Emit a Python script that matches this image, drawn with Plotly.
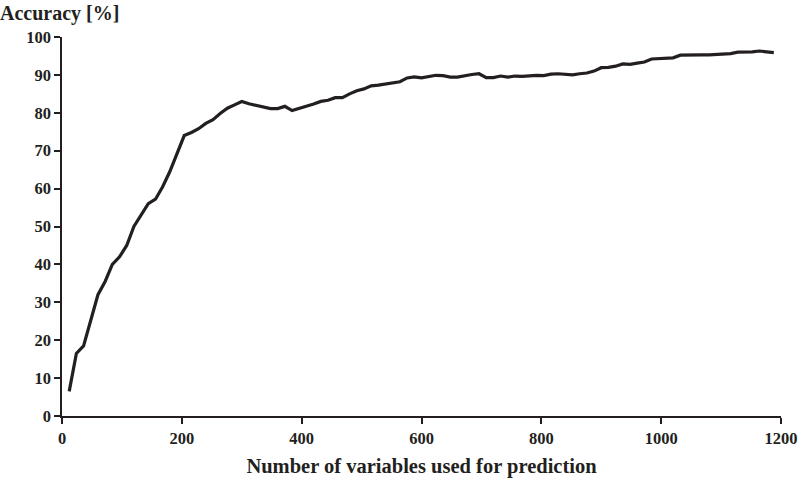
import plotly.graph_objects as go

n_vars = list(range(12, 1200, 12))
accuracy = [
    6.5, 16.5, 18.5, 25, 32, 35.5, 40, 42, 45, 50,
    53, 56, 57.2, 60.5, 64.5, 69, 74, 74.8, 75.8, 77.2,
    78.2, 79.8, 81.2, 82.1, 83, 82.4, 82, 81.6, 81.1, 81.1,
    81.7, 80.6, 81.1, 81.8, 82.3, 83, 83.3, 84, 84, 85,
    85.8, 86.3, 87.1, 87.3, 87.6, 87.7, 88.2, 89.2, 89.5, 89.2,
    89.5, 89.9, 89.8, 89.4, 89.4, 89.8, 90.1, 90.3, 89.3, 89.3,
    89.7, 89.4, 89.7, 89.6, 89.8, 89.9, 89.8, 90.2, 90.3, 90.2,
    90.0, 90.3, 90.5, 91.0, 91.9, 92.0, 92.3, 92.9, 92.8, 93.1,
    93.4, 94.2, 94.3, 94.4, 94.5, 95.2, 95.3, 95.2, 95.3, 95.3,
    95.4, 95.5, 95.6, 96.0, 96.0, 96.1, 96.3, 96.1, 95.9,
]
x_ticks = [0, 200, 400, 600, 800, 1000, 1200]
y_ticks = [0, 10, 20, 30, 40, 50, 60, 70, 80, 90, 100]

font_family = "Liberation Serif"
ink = "#231f20"

fig = go.Figure(go.Scatter(x=n_vars, y=accuracy, mode="lines",
                           line=dict(color=ink, width=3.2), hoverinfo="skip"))

fig.update_layout(
    width=800, height=480,
    margin=dict(l=62, r=19, t=37, b=64),
    paper_bgcolor="white", plot_bgcolor="white",
    showlegend=False,
    font=dict(family=font_family, color=ink, size=16),
)
fig.update_xaxes(
    range=[0, 1200], tickvals=x_ticks, ticks="outside", ticklen=6, tickwidth=1.5,
    tickcolor=ink, showline=True, linecolor=ink, linewidth=1.5, showgrid=False,
    zeroline=False, automargin=False,
    tickfont=dict(family=font_family, size=16.5, color=ink, weight="bold"),
    title=dict(text="<b>Number of variables used for prediction</b>",
               font=dict(family=font_family, size=20.5, color=ink), standoff=12),
)
fig.update_yaxes(
    range=[0, 100], tickvals=y_ticks, ticks="outside", ticklen=6, tickwidth=1.5,
    tickcolor=ink, showline=True, linecolor=ink, linewidth=1.5, showgrid=False,
    zeroline=False, automargin=False,
    tickfont=dict(family=font_family, size=16.5, color=ink, weight="bold"),
)
fig.add_annotation(text="<b>Accuracy [%]</b>", xref="paper", yref="paper",
                   x=-64 / 719, y=1.0, yshift=37, xanchor="left", yanchor="top",
                   showarrow=False, font=dict(family=font_family, size=20, color=ink))

fig.write_html("out.html", config={"displayModeBar": False},
               post_script="document.body.style.margin='0';document.body.style.overflow='hidden';")
